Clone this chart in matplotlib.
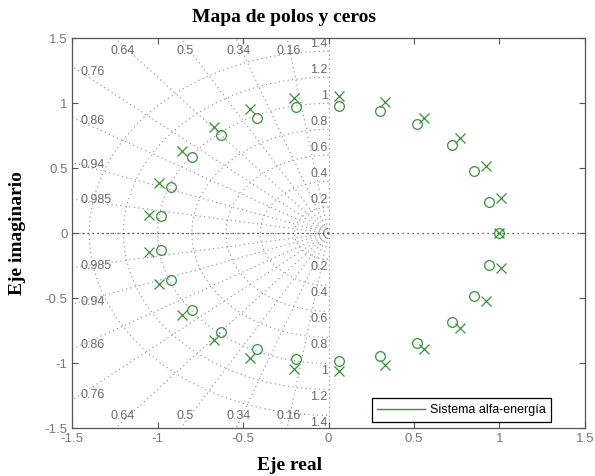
import matplotlib
matplotlib.use('Agg')
import matplotlib.pyplot as plt
import numpy as np
from matplotlib.lines import Line2D

GREEN = '#3a8f3a'
GRID = '#8a8a8a'
LABEL = '#6a6a6a'

# Pole / zero locations
poles_re = [0.06, 0.33, 0.56, 0.77, 0.92, 1.01,
            -0.20, -0.46, -0.67, -0.86, -0.99, -1.05,
            -1.05, -0.99, -0.86, -0.67, -0.46, -0.20,
            1.01, 0.92, 0.77, 0.56, 0.33, 0.06, 1.00]
poles_im = [1.06, 1.01, 0.89, 0.73, 0.52, 0.27,
            1.04, 0.96, 0.82, 0.63, 0.39, 0.14,
            -0.14, -0.39, -0.63, -0.82, -0.96, -1.04,
            -0.27, -0.52, -0.73, -0.89, -1.01, -1.06, 0.0]
zeros_re = [0.06, 0.30, 0.52, 0.72, 0.85, 0.94,
            -0.19, -0.42, -0.63, -0.80, -0.92, -0.98,
            -0.98, -0.92, -0.80, -0.63, -0.42, -0.19,
            0.94, 0.85, 0.72, 0.52, 0.30, 0.06, 1.00]
zeros_im = [0.98, 0.94, 0.84, 0.68, 0.48, 0.24,
            0.97, 0.89, 0.76, 0.59, 0.36, 0.13,
            -0.13, -0.36, -0.59, -0.76, -0.89, -0.97,
            -0.24, -0.48, -0.68, -0.84, -0.94, -0.98, 0.0]

# sgrid values
zetas = [0.16, 0.34, 0.5, 0.64, 0.76, 0.86, 0.94, 0.985]
zeta_labels = ['0.16', '0.34', '0.5', '0.64', '0.76', '0.86', '0.94', '0.985']
wns = [0.2, 0.4, 0.6, 0.8, 1.0, 1.2, 1.4]
wn_labels = ['0.2', '0.4', '0.6', '0.8', '1', '1.2', '1.4']
ticks = [-1.5, -1, -0.5, 0, 0.5, 1, 1.5]
tick_labels = ['-1.5', '-1', '-0.5', '0', '0.5', '1', '1.5']

plt.rcParams['font.family'] = ['Liberation Sans', 'DejaVu Sans']

fig = plt.figure(figsize=(5.95, 4.76), dpi=100)
fig.patch.set_facecolor('white')
ax = fig.add_axes([0.1215, 0.1002, 0.8615, 0.8193])
ax.set_xlim(-1.5, 1.5)
ax.set_ylim(-1.5, 1.5)

DOTS = (0, (1, 3))

# damping rays
for z in [0.0] + zetas + [1.0]:
    s = np.sqrt(1 - z ** 2)
    for sgn in (1, -1):
        ax.plot([0, -3 * z], [0, sgn * 3 * s], ls=DOTS, color=GRID, lw=0.8, zorder=1)

# natural frequency semicircles
th = np.linspace(np.pi / 2, 3 * np.pi / 2, 200)
for w in wns:
    ax.plot(w * np.cos(th), w * np.sin(th), ls=DOTS, color=GRID, lw=0.8, zorder=1)

# damping labels
for z, lab in zip(zetas, zeta_labels):
    s = np.sqrt(1 - z ** 2)
    xt = -1.45 * z / s
    if xt >= -1.3:
        ax.text(xt, 1.45, lab, ha='center', va='top', fontsize=9, color=LABEL)
        ax.text(xt, -1.45, lab, ha='center', va='bottom', fontsize=9, color=LABEL)
    else:
        yt = 1.45 * s / z
        ax.text(-1.45, yt, lab, ha='left', va='center', fontsize=9, color=LABEL)
        ax.text(-1.45, -yt, lab, ha='left', va='center', fontsize=9, color=LABEL)

for w, lab in zip(wns, wn_labels):
    ax.text(-0.005, w + 0.06, lab, ha='right', va='center', fontsize=9, color=LABEL)
    ax.text(-0.005, -w - 0.06, lab, ha='right', va='center', fontsize=9, color=LABEL)

# real axis
ax.axhline(0, ls=DOTS, color='#333333', lw=0.9, zorder=1)

ax.plot(poles_re, poles_im, 'x', color=GREEN, ms=7, mew=0.9, zorder=3)
ax.plot(zeros_re, zeros_im, 'o', color=GREEN, ms=7, mew=0.9, mfc='none', zorder=3)

ax.set_xticks(ticks)
ax.set_xticklabels(tick_labels)
ax.set_yticks(ticks)
ax.set_yticklabels(tick_labels)
ax.tick_params(direction='in', length=4, top=True, right=True,
               labelsize=9.5, labelcolor='#777777', color='#555555')
for sp in ax.spines.values():
    sp.set_color('#555555')
    sp.set_linewidth(0.9)

leg = ax.legend([Line2D([0], [0], color=GREEN, lw=1)], ['Sistema alfa-energía'],
                loc='lower right', bbox_to_anchor=(0.9345, 0.017), borderaxespad=0,
                fancybox=False, edgecolor='black', framealpha=1, fontsize=9,
                handlelength=3.8, borderpad=0.45, handletextpad=0.4)
leg.get_frame().set_linewidth(0.9)

fig.text(284.5 / 595, 1 - 18 / 476, 'Mapa de polos y ceros', ha='center', va='center',
         fontsize=14, fontweight='bold', family='Liberation Serif')
fig.text(290 / 595, 1 - 465 / 476, 'Eje real', ha='center', va='center',
         fontsize=14, fontweight='bold', family='Liberation Serif')
fig.text(18 / 595, 1 - 233 / 476, 'Eje imaginario', ha='center', va='center',
         rotation=90, fontsize=14, fontweight='bold', family='Liberation Serif')

fig.savefig('out.png', dpi=100, facecolor='white')
